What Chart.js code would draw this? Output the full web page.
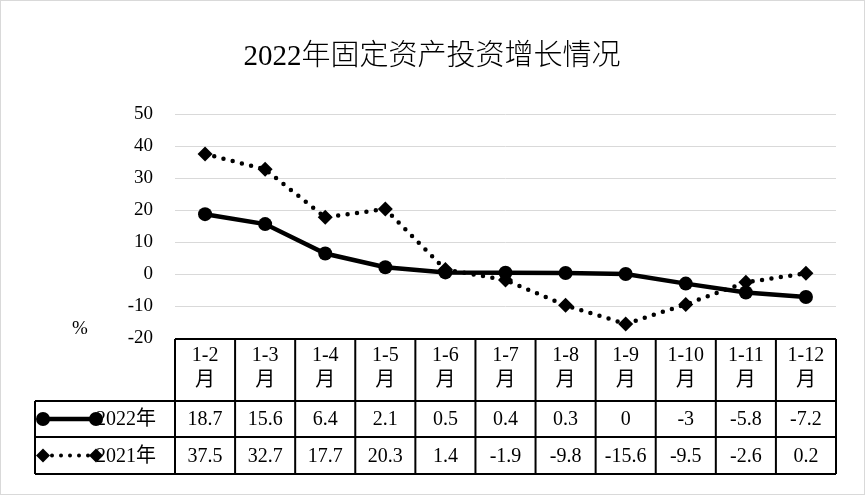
<!DOCTYPE html>
<html>
<head>
<meta charset="utf-8">
<script src="https://cdn.jsdelivr.net/npm/chart.js@4.4.0/dist/chart.umd.min.js"></script>
<style>
  html, body { margin: 0; padding: 0; background: #fff; }
</style>
</head>
<body>
<canvas id="chart" width="865" height="495"></canvas>
<script>
// datos del grafico
var months = ["1-2", "1-3", "1-4", "1-5", "1-6", "1-7", "1-8", "1-9", "1-10", "1-11", "1-12"];
var monthSuffix = "月";
var values2022 = [18.7, 15.6, 6.4, 2.1, 0.5, 0.4, 0.3, 0, -3, -5.8, -7.2];
var values2021 = [37.5, 32.7, 17.7, 20.3, 1.4, -1.9, -9.8, -15.6, -9.5, -2.6, 0.2];
var label2022 = "2022年";
var label2021 = "2021年";
var yTicks = [50, 40, 30, 20, 10, 0, -10, -20];
var chartTitle = "2022年固定资产投资增长情况";
var unitLabel = "%";

var serif = '"Liberation Serif", "Times New Roman", "Noto Sans CJK SC", serif';

function drawKey(ctx, x1, x2, y, dotted) {
  ctx.save();
  ctx.strokeStyle = '#000';
  ctx.fillStyle = '#000';
  if (dotted) {
    ctx.lineWidth = 4;
    ctx.lineCap = 'round';
    ctx.setLineDash([0, 9]);
  } else {
    ctx.lineWidth = 4.5;
  }
  ctx.beginPath();
  ctx.moveTo(x1, y);
  ctx.lineTo(x2, y);
  ctx.stroke();
  ctx.setLineDash([]);
  [x1, x2].forEach(function (x) {
    ctx.beginPath();
    if (dotted) {
      ctx.moveTo(x, y - 7); ctx.lineTo(x + 7, y); ctx.lineTo(x, y + 7); ctx.lineTo(x - 7, y);
      ctx.closePath();
    } else {
      ctx.arc(x, y, 7, 0, Math.PI * 2);
    }
    ctx.fill();
  });
  ctx.restore();
}

// tabla de datos, titulo y marco
var tablePlugin = {
  id: 'dataTable',
  afterDraw: function (chart) {
    var ctx = chart.ctx;
    var area = chart.chartArea;
    var xs = chart.scales.x;
    var n = months.length;
    var colW = (area.right - area.left) / n;
    var top = area.bottom + 1;
    var rowH = [62, 36, 37];
    var y1 = top + rowH[0], y2 = y1 + rowH[1], y3 = y2 + rowH[2];
    var legendLeft = 35;

    ctx.save();
    // marco exterior
    ctx.strokeStyle = '#d9d9d9';
    ctx.lineWidth = 1;
    ctx.strokeRect(0.5, 0.5, chart.width - 1, chart.height - 1);

    // titulo
    ctx.fillStyle = '#000';
    ctx.font = '300 29px ' + serif;
    ctx.textAlign = 'center';
    ctx.textBaseline = 'middle';
    ctx.fillText(chartTitle, 432, 57);

    // unidad
    ctx.font = '19px ' + serif;
    ctx.fillText(unitLabel, 80, 329);

    // lineas de la tabla
    ctx.strokeStyle = '#000';
    ctx.lineWidth = 2;
    ctx.beginPath();
    ctx.moveTo(area.left, top); ctx.lineTo(area.right, top);
    ctx.moveTo(legendLeft, y1); ctx.lineTo(area.right, y1);
    ctx.moveTo(legendLeft, y2); ctx.lineTo(area.right, y2);
    ctx.moveTo(legendLeft, y3); ctx.lineTo(area.right, y3);
    ctx.moveTo(legendLeft, y1); ctx.lineTo(legendLeft, y3);
    for (var i = 0; i <= n; i++) {
      var x = area.left + i * colW;
      ctx.moveTo(x, top); ctx.lineTo(x, y3);
    }
    ctx.stroke();

    // textos
    ctx.font = '20px ' + serif;
    ctx.textAlign = 'center';
    for (var j = 0; j < n; j++) {
      var cx = xs.getPixelForValue(j);
      ctx.fillText(months[j], cx, top + 17);
      ctx.fillText(monthSuffix, cx, top + 42);
      ctx.fillText(String(values2022[j]), cx, (y1 + y2) / 2 + 1);
      ctx.fillText(String(values2021[j]), cx, (y2 + y3) / 2 + 1);
    }

    // leyenda
    drawKey(ctx, 43, 96, (y1 + y2) / 2, false);
    drawKey(ctx, 43, 96, (y2 + y3) / 2, true);
    ctx.textAlign = 'left';
    ctx.fillText(label2022, 96, (y1 + y2) / 2 + 1);
    ctx.fillText(label2021, 96, (y2 + y3) / 2 + 1);
    ctx.restore();
  }
};

var ctx = document.getElementById('chart').getContext('2d');
var myChart = new Chart(ctx, {
  type: 'line',
  data: {
    labels: months.map(function (m) { return m + monthSuffix; }),
    datasets: [{
      label: label2022,
      data: values2022,
      borderColor: '#000',
      backgroundColor: '#000',
      borderWidth: 4.5,
      pointStyle: 'circle',
      pointRadius: 7,
      pointBorderWidth: 0,
      tension: 0
    }, {
      label: label2021,
      data: values2021,
      borderColor: '#000',
      backgroundColor: '#000',
      borderWidth: 4.5,
      borderDash: [0, 9.5],
      borderCapStyle: 'round',
      pointStyle: 'rectRot',
      pointRadius: 7.5,
      pointBorderWidth: 0,
      tension: 0
    }]
  },
  options: {
    responsive: false,
    animation: false,
    layout: { padding: { top: 114, right: 29, bottom: 157, left: 0 } },
    plugins: {
      legend: { display: false },
      title: { display: false },
      tooltip: { enabled: false }
    },
    scales: {
      x: {
        type: 'category',
        display: false,
        offset: true
      },
      y: {
        min: -20,
        max: 50,
        afterFit: function (scale) { scale.width = 175; },
        afterBuildTicks: function (scale) {
          scale.ticks = yTicks.slice().reverse().map(function (v) { return { value: v }; });
        },
        grid: { color: '#d9d9d9', lineWidth: 1, drawTicks: false },
        border: { display: false },
        ticks: {
          color: '#000',
          padding: 22,
          font: { family: serif, size: 19 }
        }
      }
    }
  },
  plugins: [tablePlugin]
});
</script>
</body>
</html>
